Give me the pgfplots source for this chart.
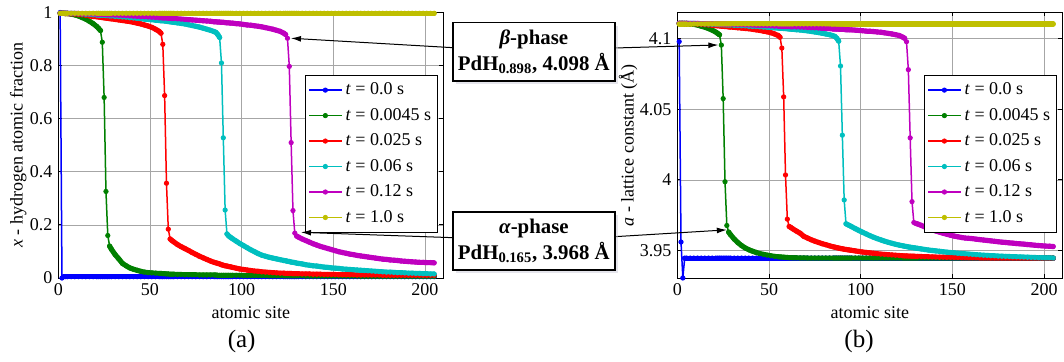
\documentclass[border=0pt]{standalone}
\usepackage{pgfplots}
\pgfplotsset{compat=1.18}
\usepackage{pgfplotstable}
\usepackage{fontspec}
\setmainfont{Liberation Serif}
\usetikzlibrary{arrows.meta,shadows}
\definecolor{mb}{rgb}{0,0,1}
\definecolor{mg}{rgb}{0,0.5,0}
\definecolor{mr}{rgb}{1,0,0}
\definecolor{mc}{rgb}{0,0.75,0.75}
\definecolor{mm}{rgb}{0.75,0,0.75}
\definecolor{my}{rgb}{0.75,0.75,0}

\pgfplotstableread{
s b g r c m y
1 1.000 0.997 0.997 0.997 0.997 0.997
2 0.000 0.997 0.997 0.997 0.997 0.997
3 0.005 0.997 0.997 0.997 0.997 0.997
4 0.005 0.996 0.996 0.997 0.997 0.997
5 0.005 0.996 0.996 0.997 0.997 0.997
7 0.005 0.994 0.995 0.996 0.996 0.997
9 0.005 0.991 0.994 0.996 0.996 0.997
11 0.005 0.987 0.992 0.995 0.996 0.997
13 0.005 0.981 0.991 0.994 0.995 0.997
15 0.005 0.975 0.989 0.993 0.995 0.997
17 0.005 0.967 0.987 0.992 0.994 0.997
19 0.005 0.958 0.985 0.991 0.994 0.997
21 0.005 0.947 0.984 0.990 0.993 0.997
22 0.005 0.940 0.983 0.990 0.993 0.997
23 0.005 0.932 0.982 0.989 0.993 0.997
24 0.005 0.888 0.981 0.989 0.992 0.997
25 0.005 0.680 0.980 0.989 0.992 0.997
26 0.005 0.326 0.979 0.988 0.992 0.997
27 0.005 0.160 0.978 0.988 0.991 0.997
28 0.005 0.120 0.977 0.987 0.991 0.997
29 0.005 0.108 0.976 0.987 0.991 0.997
31 0.005 0.088 0.974 0.985 0.990 0.997
33 0.005 0.072 0.972 0.984 0.989 0.997
35 0.005 0.055 0.970 0.983 0.989 0.997
37 0.005 0.046 0.968 0.982 0.988 0.997
39 0.005 0.038 0.966 0.980 0.987 0.997
41 0.005 0.033 0.963 0.979 0.986 0.997
43 0.005 0.029 0.960 0.978 0.985 0.997
45 0.005 0.025 0.957 0.977 0.984 0.997
47 0.005 0.022 0.953 0.975 0.984 0.997
49 0.005 0.020 0.949 0.974 0.983 0.997
51 0.005 0.019 0.944 0.973 0.982 0.997
53 0.005 0.018 0.937 0.971 0.981 0.997
55 0.005 0.017 0.929 0.970 0.980 0.997
56 0.005 0.017 0.922 0.969 0.980 0.997
57 0.005 0.016 0.880 0.969 0.979 0.997
58 0.005 0.016 0.687 0.968 0.979 0.997
59 0.005 0.015 0.357 0.967 0.979 0.997
60 0.005 0.015 0.184 0.966 0.978 0.997
61 0.005 0.014 0.147 0.965 0.978 0.997
62 0.005 0.014 0.141 0.964 0.977 0.997
63 0.005 0.014 0.136 0.963 0.977 0.997
65 0.005 0.013 0.126 0.961 0.976 0.997
67 0.005 0.013 0.118 0.959 0.975 0.997
69 0.005 0.012 0.111 0.957 0.974 0.997
71 0.005 0.012 0.104 0.954 0.973 0.997
73 0.005 0.012 0.096 0.951 0.972 0.997
75 0.005 0.012 0.089 0.948 0.971 0.997
77 0.005 0.011 0.082 0.945 0.970 0.997
79 0.005 0.011 0.076 0.941 0.969 0.997
81 0.005 0.011 0.070 0.937 0.968 0.997
83 0.005 0.011 0.064 0.933 0.967 0.997
85 0.005 0.011 0.059 0.928 0.965 0.997
86 0.005 0.011 0.057 0.925 0.965 0.997
87 0.005 0.010 0.055 0.917 0.964 0.997
88 0.005 0.010 0.053 0.906 0.964 0.997
89 0.005 0.010 0.050 0.810 0.963 0.997
90 0.005 0.010 0.048 0.528 0.963 0.997
91 0.005 0.010 0.046 0.256 0.962 0.997
92 0.005 0.010 0.045 0.166 0.961 0.997
93 0.005 0.010 0.043 0.158 0.961 0.997
94 0.005 0.010 0.042 0.153 0.960 0.997
95 0.005 0.010 0.040 0.148 0.960 0.997
97 0.005 0.010 0.037 0.139 0.958 0.997
99 0.005 0.010 0.034 0.130 0.957 0.997
101 0.005 0.009 0.032 0.122 0.955 0.997
103 0.005 0.009 0.030 0.114 0.953 0.997
105 0.005 0.009 0.028 0.106 0.952 0.997
107 0.005 0.009 0.026 0.099 0.950 0.997
109 0.005 0.009 0.025 0.092 0.948 0.997
111 0.005 0.009 0.023 0.086 0.946 0.997
113 0.005 0.009 0.022 0.082 0.943 0.997
115 0.005 0.008 0.021 0.078 0.940 0.997
117 0.005 0.008 0.020 0.075 0.937 0.997
119 0.005 0.008 0.019 0.072 0.933 0.997
121 0.005 0.008 0.018 0.069 0.929 0.997
123 0.005 0.008 0.018 0.066 0.922 0.997
124 0.005 0.008 0.017 0.065 0.917 0.997
125 0.005 0.008 0.017 0.063 0.903 0.997
126 0.005 0.008 0.017 0.062 0.797 0.997
127 0.005 0.008 0.017 0.060 0.510 0.997
128 0.005 0.008 0.016 0.059 0.254 0.997
129 0.005 0.008 0.016 0.058 0.169 0.997
130 0.005 0.008 0.016 0.056 0.158 0.997
131 0.005 0.008 0.016 0.055 0.154 0.997
133 0.005 0.008 0.015 0.053 0.147 0.997
135 0.005 0.007 0.015 0.050 0.141 0.997
137 0.005 0.007 0.015 0.048 0.135 0.997
139 0.005 0.007 0.014 0.046 0.129 0.997
141 0.005 0.007 0.014 0.045 0.124 0.997
143 0.005 0.007 0.014 0.043 0.119 0.997
145 0.005 0.007 0.013 0.041 0.115 0.997
147 0.005 0.007 0.013 0.040 0.111 0.997
149 0.005 0.007 0.013 0.038 0.107 0.997
151 0.005 0.007 0.013 0.037 0.103 0.997
153 0.005 0.007 0.012 0.036 0.099 0.997
155 0.005 0.007 0.012 0.034 0.096 0.997
157 0.005 0.007 0.012 0.033 0.093 0.997
159 0.005 0.007 0.012 0.032 0.090 0.997
161 0.005 0.007 0.012 0.031 0.088 0.997
163 0.005 0.007 0.011 0.030 0.085 0.997
165 0.005 0.006 0.011 0.029 0.083 0.997
167 0.005 0.006 0.011 0.028 0.081 0.997
169 0.005 0.006 0.011 0.027 0.079 0.997
171 0.005 0.006 0.011 0.026 0.077 0.997
173 0.005 0.006 0.011 0.025 0.075 0.997
175 0.005 0.006 0.011 0.024 0.073 0.997
177 0.005 0.006 0.010 0.023 0.071 0.997
179 0.005 0.006 0.010 0.022 0.070 0.997
181 0.005 0.006 0.010 0.022 0.068 0.997
183 0.005 0.006 0.010 0.021 0.067 0.997
185 0.005 0.006 0.010 0.020 0.066 0.997
187 0.005 0.006 0.010 0.020 0.064 0.997
189 0.005 0.006 0.010 0.019 0.063 0.997
191 0.005 0.006 0.010 0.018 0.062 0.997
193 0.005 0.006 0.010 0.018 0.061 0.997
195 0.005 0.006 0.010 0.017 0.060 0.997
197 0.005 0.006 0.010 0.017 0.059 0.997
199 0.005 0.006 0.010 0.016 0.059 0.997
201 0.005 0.006 0.010 0.016 0.058 0.997
203 0.005 0.006 0.010 0.015 0.058 0.997
205 0.005 0.006 0.010 0.015 0.057 0.997
}\tabL

\pgfplotstableread{
s b g r c m y
1 4.0980 4.1109 4.1109 4.1109 4.1109 4.1105
2 3.9560 4.1109 4.1109 4.1109 4.1109 4.1105
3 3.9305 4.1109 4.1109 4.1109 4.1109 4.1105
4 3.9446 4.1108 4.1108 4.1109 4.1109 4.1105
5 3.9446 4.1108 4.1108 4.1109 4.1109 4.1105
7 3.9446 4.1106 4.1107 4.1108 4.1108 4.1105
9 3.9446 4.1102 4.1106 4.1108 4.1108 4.1105
11 3.9446 4.1097 4.1103 4.1107 4.1108 4.1105
13 3.9446 4.1089 4.1102 4.1106 4.1107 4.1105
15 3.9446 4.1082 4.1099 4.1104 4.1107 4.1105
17 3.9446 4.1072 4.1097 4.1103 4.1106 4.1105
19 3.9446 4.1061 4.1094 4.1102 4.1106 4.1105
21 3.9446 4.1047 4.1093 4.1101 4.1104 4.1105
22 3.9446 4.1038 4.1092 4.1101 4.1104 4.1105
23 3.9446 4.1028 4.1091 4.1099 4.1104 4.1105
24 3.9446 4.0955 4.1089 4.1099 4.1103 4.1105
25 3.9446 4.0576 4.1088 4.1099 4.1103 4.1105
26 3.9446 3.9987 4.1087 4.1098 4.1103 4.1105
27 3.9446 3.9677 4.1086 4.1098 4.1102 4.1105
28 3.9446 3.9630 4.1084 4.1097 4.1102 4.1105
29 3.9446 3.9612 4.1083 4.1097 4.1102 4.1105
31 3.9446 3.9581 4.1081 4.1094 4.1101 4.1105
33 3.9446 3.9556 4.1078 4.1093 4.1099 4.1105
35 3.9446 3.9535 4.1076 4.1092 4.1099 4.1105
37 3.9446 3.9518 4.1073 4.1091 4.1098 4.1105
39 3.9446 3.9505 4.1071 4.1088 4.1097 4.1105
41 3.9446 3.9495 4.1067 4.1087 4.1096 4.1105
43 3.9446 3.9486 4.1063 4.1086 4.1094 4.1105
45 3.9446 3.9478 4.1059 4.1084 4.1093 4.1105
47 3.9446 3.9472 4.1054 4.1082 4.1093 4.1105
49 3.9446 3.9467 4.1049 4.1081 4.1092 4.1105
51 3.9446 3.9462 4.1043 4.1079 4.1091 4.1105
53 3.9446 3.9458 4.1034 4.1077 4.1089 4.1105
55 3.9446 3.9455 4.1023 4.1076 4.1088 4.1105
56 3.9446 3.9454 4.1011 4.1074 4.1088 4.1105
57 3.9446 3.9453 4.0934 4.1074 4.1087 4.1105
58 3.9446 3.9452 4.0588 4.1073 4.1087 4.1105
59 3.9446 3.9451 4.0035 4.1072 4.1087 4.1105
60 3.9446 3.9450 3.9722 4.1071 4.1086 4.1105
61 3.9446 3.9449 3.9670 4.1069 4.1086 4.1105
62 3.9446 3.9449 3.9662 4.1068 4.1084 4.1105
63 3.9446 3.9448 3.9653 4.1067 4.1084 4.1105
65 3.9446 3.9448 3.9637 4.1064 4.1083 4.1105
67 3.9446 3.9447 3.9622 4.1062 4.1082 4.1105
69 3.9446 3.9447 3.9600 4.1059 4.1081 4.1105
71 3.9446 3.9446 3.9588 4.1056 4.1079 4.1105
73 3.9446 3.9446 3.9576 4.1052 4.1078 4.1105
75 3.9446 3.9446 3.9566 4.1048 4.1077 4.1105
77 3.9446 3.9446 3.9557 4.1044 4.1076 4.1105
79 3.9446 3.9446 3.9548 4.1039 4.1074 4.1105
81 3.9446 3.9446 3.9541 4.1034 4.1073 4.1105
83 3.9446 3.9446 3.9533 4.1029 4.1072 4.1105
85 3.9446 3.9446 3.9526 4.1021 4.1069 4.1105
86 3.9446 3.9446 3.9523 4.1016 4.1069 4.1105
87 3.9446 3.9446 3.9520 4.1003 4.1068 4.1105
88 3.9446 3.9446 3.9517 4.0983 4.1068 4.1105
89 3.9446 3.9446 3.9514 4.0807 4.1067 4.1105
90 3.9446 3.9446 3.9512 4.0317 4.1067 4.1105
91 3.9446 3.9446 3.9509 3.9858 4.1066 4.1105
92 3.9446 3.9446 3.9507 3.9689 4.1064 4.1105
93 3.9446 3.9446 3.9505 3.9682 4.1064 4.1105
94 3.9446 3.9446 3.9503 3.9676 4.1063 4.1105
95 3.9446 3.9446 3.9501 3.9669 4.1063 4.1105
97 3.9446 3.9446 3.9497 3.9655 4.1061 4.1105
99 3.9446 3.9446 3.9493 3.9642 4.1059 4.1105
101 3.9446 3.9446 3.9489 3.9629 4.1057 4.1105
103 3.9446 3.9446 3.9486 3.9617 4.1054 4.1105
105 3.9446 3.9446 3.9483 3.9605 4.1053 4.1105
107 3.9446 3.9446 3.9480 3.9594 4.1051 4.1105
109 3.9446 3.9446 3.9477 3.9584 4.1048 4.1105
111 3.9446 3.9446 3.9474 3.9575 4.1046 4.1105
113 3.9446 3.9446 3.9472 3.9566 4.1042 4.1105
115 3.9446 3.9446 3.9470 3.9558 4.1038 4.1105
117 3.9446 3.9446 3.9468 3.9551 4.1034 4.1105
119 3.9446 3.9446 3.9466 3.9544 4.1029 4.1105
121 3.9446 3.9446 3.9464 3.9538 4.1023 4.1105
123 3.9446 3.9446 3.9462 3.9533 4.1011 4.1105
124 3.9446 3.9446 3.9461 3.9530 4.1003 4.1105
125 3.9446 3.9446 3.9461 3.9528 4.0979 4.1105
126 3.9446 3.9446 3.9460 3.9525 4.0781 4.1105
127 3.9446 3.9446 3.9460 3.9523 4.0298 4.1105
128 3.9446 3.9446 3.9459 3.9521 3.9846 4.1105
129 3.9446 3.9446 3.9459 3.9519 3.9698 4.1105
130 3.9446 3.9446 3.9458 3.9517 3.9692 4.1105
131 3.9446 3.9446 3.9458 3.9515 3.9688 4.1105
133 3.9446 3.9446 3.9457 3.9511 3.9678 4.1105
135 3.9446 3.9446 3.9456 3.9507 3.9667 4.1105
137 3.9446 3.9446 3.9455 3.9503 3.9657 4.1105
139 3.9446 3.9446 3.9454 3.9500 3.9647 4.1105
141 3.9446 3.9446 3.9453 3.9497 3.9638 4.1105
143 3.9446 3.9446 3.9452 3.9494 3.9630 4.1105
145 3.9446 3.9446 3.9452 3.9491 3.9622 4.1105
147 3.9446 3.9446 3.9451 3.9488 3.9615 4.1105
149 3.9446 3.9446 3.9451 3.9485 3.9608 4.1105
151 3.9446 3.9446 3.9450 3.9483 3.9602 4.1105
153 3.9446 3.9446 3.9450 3.9480 3.9597 4.1105
155 3.9446 3.9446 3.9449 3.9478 3.9592 4.1105
157 3.9446 3.9446 3.9449 3.9476 3.9588 4.1105
159 3.9446 3.9446 3.9448 3.9474 3.9586 4.1105
161 3.9446 3.9446 3.9448 3.9472 3.9584 4.1105
163 3.9446 3.9446 3.9448 3.9470 3.9580 4.1105
165 3.9446 3.9446 3.9447 3.9468 3.9577 4.1105
167 3.9446 3.9446 3.9447 3.9466 3.9574 4.1105
169 3.9446 3.9446 3.9447 3.9465 3.9571 4.1105
171 3.9446 3.9446 3.9446 3.9463 3.9568 4.1105
173 3.9446 3.9446 3.9446 3.9462 3.9565 4.1105
175 3.9446 3.9446 3.9446 3.9460 3.9562 4.1105
177 3.9446 3.9446 3.9446 3.9459 3.9559 4.1105
179 3.9446 3.9446 3.9446 3.9458 3.9557 4.1105
181 3.9446 3.9446 3.9446 3.9457 3.9554 4.1105
183 3.9446 3.9446 3.9446 3.9456 3.9552 4.1105
185 3.9446 3.9446 3.9446 3.9455 3.9549 4.1105
187 3.9446 3.9446 3.9446 3.9454 3.9547 4.1105
189 3.9446 3.9446 3.9446 3.9453 3.9545 4.1105
191 3.9446 3.9446 3.9446 3.9452 3.9542 4.1105
193 3.9446 3.9446 3.9446 3.9451 3.9540 4.1105
195 3.9446 3.9446 3.9446 3.9450 3.9537 4.1105
197 3.9446 3.9446 3.9446 3.9449 3.9535 4.1105
199 3.9446 3.9446 3.9446 3.9449 3.9533 4.1105
201 3.9446 3.9446 3.9446 3.9448 3.9531 4.1105
203 3.9446 3.9446 3.9446 3.9448 3.9530 4.1105
205 3.9446 3.9446 3.9446 3.9447 3.9528 4.1105
}\tabR

\pgfplotsset{
  myaxis/.style={
    scale only axis, width=231pt, height=159.3pt,
    xmin=0, xmax=210, xtick={0,50,...,200},
    enlargelimits=false, clip=false,
    grid=major, grid style={gray!70, line width=0.4pt},
    axis line style={line width=0.6pt},
    major tick style={black, line width=0.5pt}, major tick length=2.4pt,
    tick label style={font=\fontsize{10.8}{13}\selectfont},
    label style={font=\fontsize{10.8}{13}\selectfont},
    /pgf/number format/assume math mode=true,
    xlabel={atomic site},
    xlabel style={at={(axis description cs:0.5,-0.1306)}, anchor=center},
    legend style={at={(0.987,0.765)}, anchor=north east,
      font=\fontsize{10.8}{13}\selectfont, draw=black, line width=0.6pt,
      row sep=2.6pt, inner xsep=2pt, inner ysep=2.5pt, cells={anchor=west}},
    legend image code/.code={\draw[mark repeat=2,mark phase=2,##1] plot coordinates {(0pt,0pt)(9.7pt,0pt)(19.4pt,0pt)};},
    every axis plot/.append style={line width=0.9pt, mark=*, mark size=1.3pt, mark options={solid, line width=0.5pt}},
  },
  band/.style={forget plot, no marks, line width=3.1pt, line cap=round, line join=round, unbounded coords=jump},
}

\begin{document}
\begin{tikzpicture}
\useasboundingbox (0,0) rectangle (638.4pt,216.6pt);

\begin{axis}[myaxis, at={(34.98pt,49.8pt)}, anchor=south west,
  ymin=0, ymax=1, ytick={0,0.2,0.4,0.6,0.8,1},
  ylabel={\textit{x} - hydrogen atomic fraction},
  ylabel style={at={(axis description cs:-0.104,0.5)}, anchor=center}]
\addplot[mb, band, x filter/.expression={x<3 ? nan : x}] table[x=s,y=b]{\tabL};
\addplot[color=mb] table[x=s,y=b]{\tabL};
\addplot[mg, band, x filter/.expression={(x>23 && x<28) ? nan : x}] table[x=s,y=g]{\tabL};
\addplot[color=mg] table[x=s,y=g]{\tabL};
\addplot[mr, band, x filter/.expression={(x>56 && x<61) ? nan : x}] table[x=s,y=r]{\tabL};
\addplot[color=mr] table[x=s,y=r]{\tabL};
\addplot[mc, band, x filter/.expression={(x>88 && x<92) ? nan : x}] table[x=s,y=c]{\tabL};
\addplot[color=mc] table[x=s,y=c]{\tabL};
\addplot[mm, band, x filter/.expression={(x>124 && x<130) ? nan : x}] table[x=s,y=m]{\tabL};
\addplot[color=mm] table[x=s,y=m]{\tabL};
\addplot[my, band] table[x=s,y=y]{\tabL};
\addplot[color=my] table[x=s,y=y]{\tabL};
\legend{\textit{t} = 0.0 s, \textit{t} = 0.0045 s, \textit{t} = 0.025 s, \textit{t} = 0.06 s, \textit{t} = 0.12 s, \textit{t} = 1.0 s}
\coordinate (tbL) at (axis cs:126.9,0.903);
\coordinate (taL) at (axis cs:132.4,0.172);
\end{axis}

\begin{axis}[myaxis, at={(406.4pt,49.8pt)}, anchor=south west,
  ymin=3.9305, ymax=4.1186, ytick={3.95,4,4.05,4.1},
  ylabel={\textit{a} - lattice constant (Å)},
  ylabel style={at={(axis description cs:-0.128,0.5)}, anchor=center}]
\addplot[mb, band, x filter/.expression={x<4 ? nan : x}] table[x=s,y=b]{\tabR};
\addplot[color=mb] table[x=s,y=b]{\tabR};
\addplot[mg, band, x filter/.expression={(x>23 && x<28) ? nan : x}] table[x=s,y=g]{\tabR};
\addplot[color=mg] table[x=s,y=g]{\tabR};
\addplot[mr, band, x filter/.expression={(x>56 && x<61) ? nan : x}] table[x=s,y=r]{\tabR};
\addplot[color=mr] table[x=s,y=r]{\tabR};
\addplot[mc, band, x filter/.expression={(x>88 && x<92) ? nan : x}] table[x=s,y=c]{\tabR};
\addplot[color=mc] table[x=s,y=c]{\tabR};
\addplot[mm, band, x filter/.expression={(x>124 && x<130) ? nan : x}] table[x=s,y=m]{\tabR};
\addplot[color=mm] table[x=s,y=m]{\tabR};
\addplot[my, band] table[x=s,y=y]{\tabR};
\addplot[color=my] table[x=s,y=y]{\tabR};
\legend{\textit{t} = 0.0 s, \textit{t} = 0.0045 s, \textit{t} = 0.025 s, \textit{t} = 0.06 s, \textit{t} = 0.12 s, \textit{t} = 1.0 s}
\coordinate (tbR) at (axis cs:22.4,4.0956);
\coordinate (taR) at (axis cs:27.0,3.9646);
\end{axis}

\begin{scope}[line width=0.6pt]
\draw[-{Latex[length=6pt,width=3.5pt]}] (271.6pt,188.0pt) -- (tbL);
\draw[-{Latex[length=6pt,width=3.5pt]}] (369pt,187.8pt) -- (tbR);
\draw[-{Latex[length=6pt,width=3.5pt]}] (271.6pt,74.0pt) -- (taL);
\draw[-{Latex[length=6pt,width=3.5pt]}] (369pt,74.6pt) -- (taR);
\end{scope}

\tikzset{phasebox/.style={draw, line width=1pt, fill=white,
  drop shadow={shadow xshift=1.8pt, shadow yshift=-1.8pt, fill=blue!15!gray!35},
  minimum width=97pt, minimum height=35pt, inner sep=1pt, align=center,
  font=\bfseries\fontsize{12.5}{15.4}\selectfont}}
\node[phasebox] at (320.3pt,185.5pt) {\textit{β}-phase\\PdH\textsubscript{0.898}, 4.098 Å};
\node[phasebox] at (320.3pt,72.0pt) {\textit{α}-phase\\PdH\textsubscript{0.165}, 3.968 Å};

\node[font=\fontsize{15}{18}\selectfont] at (145pt,11.6pt) {(a)};
\node[font=\fontsize{15}{18}\selectfont] at (515.4pt,11.6pt) {(b)};
\end{tikzpicture}
\end{document}
